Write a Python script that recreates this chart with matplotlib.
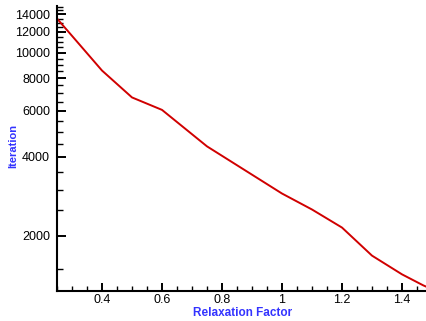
import matplotlib
matplotlib.use('Agg')
import matplotlib.pyplot as plt
from matplotlib.ticker import FixedLocator, NullFormatter
import numpy as np

# relaxation factor vs number of iterations
relax = [0.25, 0.3, 0.4, 0.5, 0.6, 0.75, 1.0, 1.1, 1.2, 1.3, 1.4, 1.47, 1.5]
iters = [13500, 11600, 8550, 6750, 6050, 4390, 2900, 2520, 2150, 1680, 1425, 1295, 1250]

y_major = [2000, 4000, 6000, 8000, 10000, 12000, 14000]
y_minor = list(range(1500, 15001, 500))
x_major = [0.4, 0.6, 0.8, 1.0, 1.2, 1.4]
x_minor = list(np.arange(0.25, 1.51, 0.05))

plt.rcParams['font.family'] = ['Liberation Sans', 'DejaVu Sans']

fig = plt.figure(figsize=(4.27, 3.21), dpi=100)
ax = fig.add_axes([57 / 427, 1 - 291 / 321, 375 / 427, 285 / 321])

ax.plot(relax, iters, color='#d00000', linewidth=1.4)

ax.set_yscale('log')
ax.set_xlim(0.25, 1.5)
ax.set_ylim(1231, 15080)

ax.yaxis.set_major_locator(FixedLocator(y_major))
ax.yaxis.set_minor_locator(FixedLocator([v for v in y_minor if v not in y_major]))
ax.set_yticklabels([str(v) for v in y_major])
ax.yaxis.set_minor_formatter(NullFormatter())
ax.xaxis.set_major_locator(FixedLocator(x_major))
ax.xaxis.set_minor_locator(FixedLocator(x_minor))
ax.set_xticklabels(['0.4', '0.6', '0.8', '1', '1.2', '1.4'])

for s in ['top', 'right']:
    ax.spines[s].set_visible(False)
for s in ['left', 'bottom']:
    ax.spines[s].set_linewidth(1.5)

ax.tick_params(axis='y', which='major', direction='in', length=6.5, width=1.4, labelsize=9, pad=5)
ax.tick_params(axis='y', which='minor', direction='in', length=4.5, width=1.0)
ax.tick_params(axis='x', which='major', direction='in', length=5.5, width=1.4, labelsize=9, pad=2.5)
ax.tick_params(axis='x', which='minor', direction='in', length=3.5, width=1.0)

# axis titles placed by hand, the axes fill nearly the whole figure
fig.text(243 / 427, 1 - 313.5 / 321, 'Relaxation Factor', color='#3333ff', fontsize=8.5,
         fontweight='bold', ha='center', va='center')
fig.text(13 / 427, 1 - 146 / 321, 'Iteration', color='#3333ff', fontsize=8,
         fontweight='bold', ha='center', va='center', rotation=90)

fig.savefig('out.png', dpi=100)
